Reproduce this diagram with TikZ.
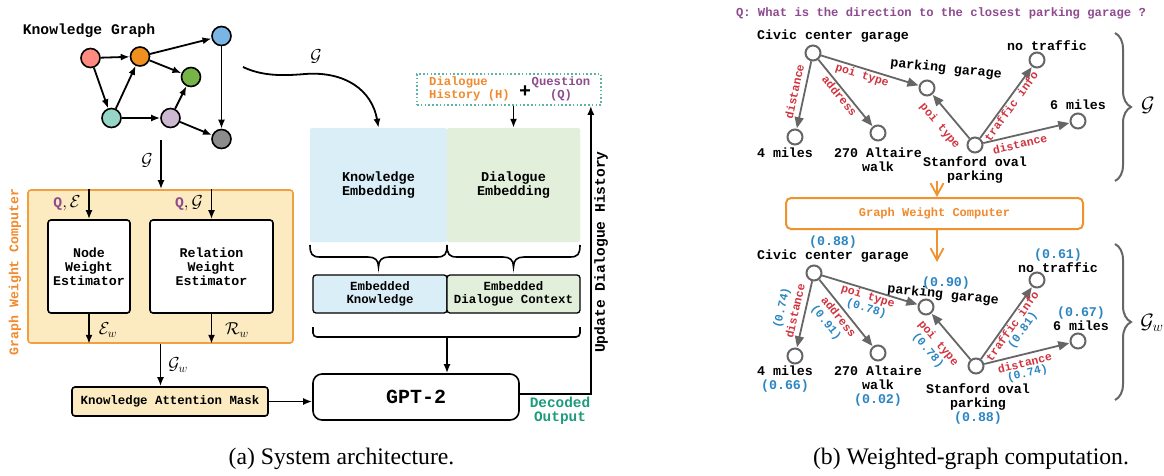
\documentclass[tikz,border=0pt]{standalone}
\usepackage{fontspec}
\setmainfont{Liberation Serif}
\setmonofont{Liberation Mono}
\usetikzlibrary{arrows.meta,decorations.pathreplacing,calc}
\newcommand{\myttf}[2]{\fontsize{#1}{#2}\selectfont\ttfamily\bfseries}
\newcommand{\mymath}[1]{\fontsize{#1}{#1}\selectfont}
\definecolor{kgsalmon}{HTML}{FF8A80}
\definecolor{kgorange}{HTML}{EF8F1F}
\definecolor{kgblue}{HTML}{7AB6E4}
\definecolor{kggreen}{HTML}{76B447}
\definecolor{kgteal}{HTML}{96D6C8}
\definecolor{kglilac}{HTML}{CDB8D2}
\definecolor{kggray}{HTML}{8C8C8C}
\definecolor{gwcfill}{HTML}{FCEAC0}
\definecolor{gwcborder}{HTML}{F0A040}
\definecolor{orangetxt}{HTML}{F08A2C}
\definecolor{orangec}{HTML}{F0922E}
\definecolor{purpletxt}{HTML}{8E4B8E}
\definecolor{tealtxt}{HTML}{1E9B7C}
\definecolor{dottedc}{HTML}{5FB3A3}
\definecolor{kblue}{HTML}{DAEEF8}
\definecolor{dgreen}{HTML}{E2EFDA}
\definecolor{edgegray}{HTML}{666666}
\definecolor{relred}{HTML}{D0343F}
\definecolor{wblue}{HTML}{2A86C2}
\begin{document}
\begin{tikzpicture}[x=1pt,y=-1pt,
  kgn/.style={circle,draw=black,line width=1.6pt,minimum size=19pt,inner sep=0pt},
  blk/.style={line width=1.8pt,-{Latex[length=9pt,width=7pt]}},
  box/.style={draw=black,line width=1.6pt,rounded corners=3pt,align=center,inner sep=2pt},
  gn/.style={circle,draw=edgegray,line width=2pt,fill=white,minimum size=15pt,inner sep=0pt},
  ge/.style={draw=edgegray,line width=1.8pt,-{Triangle[length=11pt,width=9pt]},shorten >=0.5pt},
  rl/.style={sloped,text=relred,inner sep=1pt,font=\myttf{11.5}{11.5}},
  wl/.style={sloped,text=wblue,inner sep=1pt,font=\myttf{11.5}{11.5}},
  lab/.style={inner sep=0pt,align=center,font=\myttf{13.3}{14}},
  oarr/.style={draw=orangec,line width=1.8pt,-{Straight Barb[length=12pt,width=13pt]}},
  mathl/.style={inner sep=0pt,font=\mymath{17}},
  bracegray/.style={draw=edgegray,line width=2pt,decorate,decoration={brace,amplitude=16pt}}
]
\useasboundingbox (0,0) rectangle (1164,475);
\fill[white] (0,0) rectangle (1164,475);

% ---------------- Knowledge graph ----------------
\node[font=\myttf{14.7}{15}] (kgtitle) at (89,31) {Knowledge Graph};
\node[kgn,fill=kgsalmon] (k1) at (90.5,58) {};
\node[kgn,fill=kgorange] (k2) at (140,56.5) {};
\node[kgn,fill=kgblue]   (k3) at (221.5,36) {};
\node[kgn,fill=kggreen]  (k4) at (191,77) {};
\node[kgn,fill=kgteal]   (k5) at (111.5,118) {};
\node[kgn,fill=kglilac]  (k6) at (170.5,118) {};
\node[kgn,fill=kggray]   (k7) at (221.5,139) {};
\draw[blk] (k1) -- (k2);
\draw[blk] (k1) -- (k5);
\draw[blk] (k5) -- (k2);
\draw[blk] (k2) -- (k3);
\draw[blk] (k2) -- (k4);
\draw[blk] (k5) -- (k6);
\draw[blk] (k6) -- (k4);
\draw[blk] (k6) -- (k7);
\draw[blk] (k3) -- (k7);

% ---------------- Graph weight computer ----------------
\node[draw=gwcborder,fill=gwcfill,line width=1.6pt,rounded corners=3pt,minimum width=265pt,minimum height=153pt] (gwc) at (160.5,266.5) {};
\node[rotate=90,text=orangetxt,font=\myttf{13.2}{14}] (gwcl) at (15,272) {Graph Weight Computer};
\coordinate (gstart) at (161,140);
\draw[blk] (gstart) -- (gstart |- gwc.north);
\node[mathl] (lg1) at (147,160) {$\mathcal{G}$};
\node[box,fill=white,minimum width=82pt,minimum height=93pt,font=\myttf{13.3}{14}] (nwe) at (89,266.5) {Node\\Weight\\Estimator};
\node[box,fill=white,minimum width=123pt,minimum height=93pt,font=\myttf{13.3}{14}] (rwe) at (211.5,266.5) {Relation\\Weight\\Estimator};
\draw[blk] (nwe.north |- gwc.north) -- (nwe.north);
\draw[blk] (rwe.north |- gwc.north) -- (rwe.north);
\node[mathl] (lqe) at (67,203) {{\color{purpletxt}\myttf{14.7}{15}Q}$,\mathcal{E}$};
\node[mathl] (lqg) at (189,203) {{\color{purpletxt}\myttf{14.7}{15}Q}$,\mathcal{G}$};
\draw[blk] (nwe.south) -- (nwe.south |- gwc.south);
\draw[blk] (rwe.south) -- (rwe.south |- gwc.south);
\node[mathl] (lew) at (108,330) {$\mathcal{E}_w$};
\node[mathl] (lrw) at (237,330) {$\mathcal{R}_w$};

\node[box,fill=gwcfill,minimum width=196pt,minimum height=29pt,font=\myttf{12.4}{13}] (kam) at (170,401.5) {Knowledge Attention Mask};
\draw[blk] (gwc.south) -- (gwc.south |- kam.north);
\node[mathl] (lgw) at (178,365) {$\mathcal{G}_w$};

% ---------------- GPT-2 ----------------
\node[draw=black,line width=1.6pt,rounded corners=9pt,minimum width=206pt,minimum height=46pt,font=\myttf{20}{20}] (gpt) at (416,397) {GPT-2};
\draw[blk] (kam.east) -- (kam.east -| gpt.west);

% ---------------- Embeddings ----------------
\node[fill=kblue,rounded corners=2pt,minimum width=137pt,minimum height=114pt,align=center,font=\myttf{13.5}{14}] (kemb) at (378.5,185) {Knowledge\\Embedding};
\node[fill=dgreen,rounded corners=2pt,minimum width=133pt,minimum height=114pt,align=center,font=\myttf{13.5}{14}] (demb) at (513.5,185) {Dialogue\\Embedding};

\draw[line width=1.6pt] (310,245) .. controls (310,254) and (312,257) .. (320,257) -- (368,257) .. controls (375,257) and (378.5,260) .. (378.5,267) .. controls (378.5,260) and (382,257) .. (389,257) -- (437,257) .. controls (445,257) and (447,254) .. (447,245);
\draw[line width=1.6pt] (447,245) .. controls (447,254) and (449,257) .. (457,257) -- (503,257) .. controls (510,257) and (513.5,260) .. (513.5,267) .. controls (513.5,260) and (517,257) .. (524,257) -- (570,257) .. controls (578,257) and (580,254) .. (580,245);

\node[box,line width=1.3pt,fill=kblue,minimum width=134pt,minimum height=38pt,font=\myttf{12.4}{13}] (ekn) at (380,294) {Embedded\\Knowledge};
\node[box,line width=1.3pt,fill=dgreen,minimum width=133pt,minimum height=38pt,font=\myttf{12.4}{13}] (edc) at (513.5,294) {Embedded\\Dialogue Context};

\draw[line width=1.6pt,rounded corners=4pt] (313,327) -- (313,337) -- (580,337) -- (580,327);
\coordinate (bmid) at (447,337);
\draw[blk] (bmid) -- (bmid |- gpt.north);

% ---------------- Dialogue history + question ----------------
\node[draw=dottedc,line width=1.6pt,dash pattern=on 1.6pt off 2.2pt,minimum width=184pt,minimum height=31pt] (dial) at (509,89.5) {};
\node[anchor=west,align=left,text=orangetxt,inner sep=0pt,font=\myttf{12.2}{12.5}] (dh) at (429,89) {Dialogue\\History (H)};
\node[inner sep=0pt,font=\myttf{20}{20}] (plus) at (525,92) {+};
\node[align=center,text=purpletxt,inner sep=0pt,font=\myttf{12.2}{12.5}] (qq) at (561,89) {Question\\(Q)};
\draw[blk] (dial.south -| demb.north) -- (demb.north);

\coordinate (cs) at (243,67);
\draw[blk] (cs) .. controls (262,76) and (282,76) .. (305,74) .. controls (345,71) and (372,90) .. (kemb.north);
\node[mathl] (lg2) at (316,56) {$\mathcal{G}$};

\draw[blk] ([yshift=3pt]gpt.east) -| ([xshift=-11pt]dial.south east);
\node[rotate=90,inner sep=0pt,font=\myttf{14.6}{15}] (udh) at (601,252) {Update Dialogue History};
\node[align=center,text=tealtxt,inner sep=0pt,font=\myttf{14.4}{14}] (dec) at (560,410.5) {Decoded\\Output};

% ---------------- Right: question ----------------
\node[text=purpletxt,inner sep=0pt,font=\myttf{12.2}{13}] (q) at (941,13) {Q: What is the direction to the closest parking garage ?};

% ---------------- Top graph ----------------
\node[gn] (c1) at (813,53) {};
\node[gn] (m4a) at (795,137) {};
\node[gn] (alt1) at (878,133) {};
\node[gn] (pg1) at (927,88) {};
\node[gn] (nt1) at (1037,60) {};
\node[gn] (six1) at (1078,121) {};
\node[gn] (st1) at (975,145) {};
\node[lab] (lc1) at (833,36) {Civic center garage};
\node[lab] (lm4a) at (785,153) {4 miles};
\node[lab] (lalt1) at (878,160) {270 Altaire\\walk};
\node[lab,rotate=-6] (lpg1) at (946,69) {parking garage};
\node[lab] (lnt1) at (1047,46) {no traffic};
\node[lab] (lsix1) at (1078,105) {6 miles};
\node[lab] (lst1) at (975,170) {Stanford oval\\parking};
\draw[ge] (c1) -- node[rl,above=4pt,pos=0.48] {distance} (m4a);
\draw[ge] (c1) -- node[rl,below=0pt,pos=0.48] {address} (alt1);
\draw[ge] (c1) -- node[rl,below=0pt,pos=0.44] {poi type} (pg1);
\draw[ge] (st1) -- node[rl,below=7.5pt,pos=0.5] {poi type} (pg1);
\draw[ge] (st1) -- node[rl,below=0pt,pos=0.5] {traffic info} (nt1);
\draw[ge] (st1) -- node[rl,below=3pt,pos=0.40] {distance} (six1);
\draw[bracegray] (1115,33) -- (1115,181);
\node[inner sep=0pt,font=\mymath{22}] (lgtop) at (1148,105) {$\mathcal{G}$};

% ---------------- Graph weight computer (right) ----------------
\node[draw=orangec,line width=2pt,rounded corners=5pt,minimum width=297pt,minimum height=31pt,text=orangetxt,font=\myttf{12}{12}] (gwc2) at (934.5,213.5) {Graph Weight Computer};
\coordinate (oa1) at (937,181);
\draw[oarr] (oa1) -- (oa1 |- gwc2.north);
\coordinate (oa2) at (937,262);
\draw[oarr] (oa2 |- gwc2.south) -- (oa2);

% ---------------- Bottom graph ----------------
\node[gn] (c2) at (814,273) {};
\node[gn] (m4b) at (795,356) {};
\node[gn] (alt2) at (878,353) {};
\node[gn] (pg2) at (926,307) {};
\node[gn] (nt2) at (1037,280) {};
\node[gn] (six2) at (1078,341) {};
\node[gn] (st2) at (976,366) {};
\node[lab] (lc2) at (833,249) {\textcolor{wblue}{(0.88)}\\Civic center garage};
\node[lab] (lnt2) at (1058,260.5) {\textcolor{wblue}{(0.61)}\\no traffic};
\node[lab,text=wblue] (lpgw) at (946,283) {(0.90)};
\node[lab,rotate=-6] (lpg2) at (943,295) {parking garage};
\node[lab] (lsix2) at (1081,318.5) {\textcolor{wblue}{(0.67)}\\6 miles};
\node[lab] (lm4b) at (785,379) {4 miles\\\textcolor{wblue}{(0.66)}};
\node[lab] (lalt2) at (878,386) {270 Altaire\\walk\\\textcolor{wblue}{(0.02)}};
\node[lab] (lst2) at (978,404) {Stanford oval\\parking\\\textcolor{wblue}{(0.88)}};
\draw[ge] (c2) -- node[rl,above=4pt,pos=0.48] {distance} node[wl,above=16pt,pos=0.48] {(0.74)} (m4b);
\draw[ge] (c2) -- node[rl,below=1.5pt,pos=0.48] {address} node[wl,below=14.5pt,pos=0.44] {(0.91)} (alt2);
\draw[ge] (c2) -- node[rl,below=0pt,pos=0.5] {poi type} node[wl,below=12pt,pos=0.52] {(0.78)} (pg2);
\draw[ge] (st2) -- node[rl,below=7pt,pos=0.55] {poi type} node[wl,below=19.5pt,pos=0.57] {(0.78)} (pg2);
\draw[ge] (st2) -- node[rl,below=0pt,pos=0.51] {traffic info} node[wl,below=10.5pt,pos=0.54] {(0.81)} (nt2);
\draw[ge] (st2) -- node[rl,below=2.5pt,pos=0.45] {distance} node[wl,below=12.5pt,pos=0.45] {(0.74)} (six2);
\draw[bracegray] (1115,244) -- (1115,400);
\node[inner sep=0pt,font=\mymath{22}] (lgbot) at (1152,323) {$\mathcal{G}_w$};

% ---------------- Captions ----------------
\node[anchor=base,inner sep=0pt,font=\fontsize{23.7}{24}\selectfont] (capa) at (341.5,464) {(a) System architecture.};
\node[anchor=base,inner sep=0pt,font=\fontsize{23.7}{24}\selectfont] (capb) at (971,464) {(b) Weighted-graph computation.};
\end{tikzpicture}
\end{document}
